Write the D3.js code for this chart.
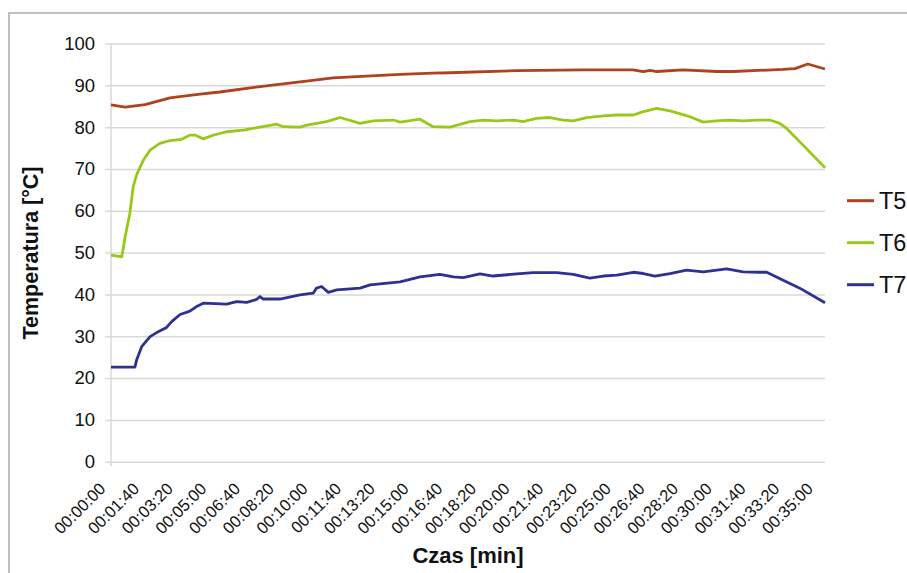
<!DOCTYPE html>
<html>
<head>
<meta charset="utf-8">
<script src="https://cdn.jsdelivr.net/npm/d3@7"></script>
<style>
    body { margin: 0; background: #fff; }
    svg { display: block; font-family: 'Liberation Sans', Arial, sans-serif; }
</style>
</head>
<body>
<div id="chart"></div>
<script>
// pomiary: czas w sekundach, temperatura w °C
const t5Czas = [0, 42, 101, 175, 264, 323, 442, 561, 659, 858, 955, 1006, 1205, 1401, 1549, 1580, 1599, 1620, 1697, 1798, 1846, 1994, 2030, 2068, 2119];
const t5Temp = [85.3, 84.8, 85.4, 87.0, 87.9, 88.4, 89.7, 90.8, 91.8, 92.6, 92.9, 93.0, 93.5, 93.7, 93.7, 93.3, 93.6, 93.3, 93.7, 93.3, 93.3, 93.8, 94.0, 95.1, 93.9];

const t6Czas = [0, 32, 42, 56, 66, 76, 96, 116, 145, 175, 210, 234, 249, 274, 304, 343, 393, 442, 492, 511, 561, 581, 640, 680, 739, 778, 838, 858, 917, 956, 1006, 1065, 1105, 1144, 1194, 1223, 1263, 1303, 1342, 1372, 1412, 1461, 1501, 1550, 1580, 1619, 1659, 1718, 1758, 1797, 1837, 1876, 1916, 1955, 1985, 2005, 2054, 2119];
const t6Temp = [49.4, 49.0, 53.8, 59.4, 65.8, 68.6, 72.1, 74.5, 76.1, 76.8, 77.1, 78.1, 78.1, 77.2, 78.1, 78.9, 79.3, 80.0, 80.7, 80.1, 80.0, 80.5, 81.3, 82.3, 80.9, 81.5, 81.7, 81.2, 81.9, 80.1, 80.0, 81.3, 81.7, 81.5, 81.7, 81.3, 82.1, 82.3, 81.7, 81.5, 82.3, 82.7, 82.9, 82.9, 83.7, 84.5, 83.9, 82.5, 81.2, 81.5, 81.7, 81.5, 81.7, 81.7, 80.9, 79.7, 75.7, 70.3];

const t7Czas = [0, 71, 76, 91, 116, 140, 165, 180, 205, 234, 254, 274, 343, 373, 403, 432, 442, 452, 501, 561, 600, 610, 625, 645, 670, 739, 769, 858, 917, 976, 1016, 1045, 1095, 1134, 1204, 1253, 1323, 1372, 1421, 1461, 1501, 1550, 1580, 1614, 1659, 1708, 1758, 1827, 1876, 1926, 1946, 1995, 2044, 2119];
const t7Temp = [22.6, 22.6, 24.3, 27.5, 29.9, 31.1, 32.1, 33.5, 35.2, 36.0, 37.1, 37.9, 37.7, 38.3, 38.1, 38.8, 39.5, 38.9, 38.9, 39.9, 40.3, 41.5, 41.9, 40.5, 41.1, 41.5, 42.3, 43.0, 44.2, 44.8, 44.2, 44.0, 44.9, 44.4, 44.9, 45.2, 45.2, 44.8, 43.9, 44.4, 44.6, 45.3, 45.0, 44.4, 45.0, 45.8, 45.4, 46.1, 45.4, 45.3, 45.3, 43.4, 41.5, 38.0];

const serie = ['T5', 'T6', 'T7'];
const xTicks = d3.range(0, 2101, 100);
const yTicks = d3.range(0, 101, 10);

const width = 907;
const height = 573;
const color = d3.scaleOrdinal(serie, ['#b0411e', '#97c91a', '#2e3192']);

const dane = [
    { name: 'T5', czas: t5Czas, temp: t5Temp },
    { name: 'T6', czas: t6Czas, temp: t6Temp },
    { name: 'T7', czas: t7Czas, temp: t7Temp }
].map(s => ({ name: s.name, points: s.czas.map((t, i) => [t, s.temp[i]]) }));

const x = d3.scaleLinear().domain([0, 2119]).range([111, 825]);
const y = d3.scaleLinear().domain([0, 100]).range([461.7, 43.5]);

const fmt = (s) => {
    const h = Math.floor(s / 3600);
    const m = Math.floor((s % 3600) / 60);
    const sec = s % 60;
    return [h, m, sec].map(v => String(v).padStart(2, '0')).join(':');
};

const svg = d3.select('#chart')
    .append('svg')
    .attr('width', width)
    .attr('height', height);

// ramka
svg.append('rect')
    .attr('x', 9)
    .attr('y', 13)
    .attr('width', 1000)
    .attr('height', 600)
    .attr('fill', 'none')
    .attr('stroke', '#c0c0c0')
    .attr('stroke-width', 2);

// siatka i oś Y
const yAxis = svg.append('g')
    .attr('transform', 'translate(111,0)')
    .call(d3.axisLeft(y).tickValues(yTicks).tickSize(-714).tickPadding(16))
    .call(g => g.select('.domain').remove());

yAxis.selectAll('.tick line')
    .attr('x1', -6)
    .attr('stroke', '#d9d9d9')
    .attr('stroke-width', 1.5);

yAxis.selectAll('.tick text')
    .attr('fill', '#111')
    .style('font-size', '18.5px')
    .style('font-family', "'Liberation Sans', Arial, sans-serif");

svg.append('line')
    .attr('x1', 111).attr('x2', 111)
    .attr('y1', 43.5).attr('y2', 466)
    .attr('stroke', '#d9d9d9')
    .attr('stroke-width', 1.5);

// oś X
const xAxis = svg.append('g')
    .attr('transform', 'translate(0,461.7)')
    .call(d3.axisBottom(x).tickValues(xTicks).tickFormat(fmt).tickSize(0))
    .call(g => g.select('.domain').remove());

xAxis.selectAll('.tick text')
    .attr('fill', '#111')
    .attr('text-anchor', 'end')
    .attr('dy', null)
    .attr('y', 0)
    .attr('transform', 'translate(-5,28) rotate(-45)')
    .style('font-size', '16.5px')
    .style('font-family', "'Liberation Sans', Arial, sans-serif");

// linie
const line = d3.line()
    .x(d => x(d[0]))
    .y(d => y(d[1]));

svg.selectAll('.seria')
    .data(dane)
    .enter()
    .append('path')
    .attr('class', 'seria')
    .attr('d', d => line(d.points))
    .attr('fill', 'none')
    .attr('stroke', d => color(d.name))
    .attr('stroke-width', 2.8)
    .attr('stroke-linejoin', 'round');

// tytuły osi
svg.append('text')
    .attr('transform', 'translate(38,253) rotate(-90)')
    .attr('text-anchor', 'middle')
    .attr('font-weight', 'bold')
    .attr('font-size', 21.5)
    .attr('fill', '#111')
    .text('Temperatura [°C]');

svg.append('text')
    .attr('x', 468)
    .attr('y', 563)
    .attr('text-anchor', 'middle')
    .attr('font-weight', 'bold')
    .attr('font-size', 22)
    .attr('fill', '#111')
    .text('Czas [min]');

// legenda
const legend = svg.selectAll('.legend')
    .data(serie)
    .enter()
    .append('g')
    .attr('class', 'legend')
    .attr('transform', (d, i) => `translate(847, ${200.7 + 42 * i})`);

legend.append('line')
    .attr('x1', 0).attr('x2', 27)
    .attr('stroke', d => color(d))
    .attr('stroke-width', 3);

legend.append('text')
    .text(d => d)
    .attr('x', 32)
    .attr('dy', '0.36em')
    .attr('font-size', 23.5)
    .attr('fill', '#111');
</script>
</body>
</html>
